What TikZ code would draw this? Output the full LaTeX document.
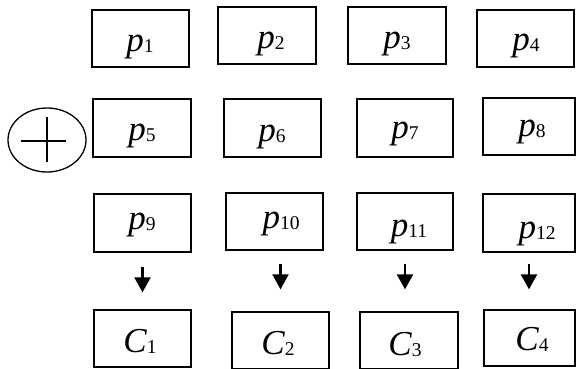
\documentclass[tikz,border=0pt]{standalone}
\usepackage{fontspec}
\setmainfont{Liberation Serif}
\usetikzlibrary{arrows.meta,shapes.geometric}
\newcommand\lab[2]{\textit{#1}\raisebox{-1.5pt}{\fontsize{19.5}{19.5}\selectfont #2}}
\tikzset{
  boxnode/.style={draw, line width=1.3pt, inner sep=0pt, rectangle},
  lblnode/.style={anchor=base, inner sep=0pt, font=\fontsize{35}{35}\selectfont},
  arr/.style={line width=2.2pt, -{Triangle[width=16pt,length=15pt]}},
}
\newcommand\bx[9]{%
  \pgfmathsetmacro\bw{#4-#2}\pgfmathsetmacro\bh{#5-#3}%
  \pgfmathsetmacro\bcx{(#2+#4)/2}\pgfmathsetmacro\bcy{(#3+#5)/2}%
  \node[boxnode, minimum width=\bw pt, minimum height=\bh pt] (#1) at (\bcx,\bcy) {};
  \node[lblnode] (#1t) at (#6,#7) {\lab{#8}{#9}};
}
\begin{document}
\begin{tikzpicture}[x=1pt,y=-1pt]
\useasboundingbox (0,0) rectangle (576,368);
\bx{p1}{92}{10}{189}{67}{140}{51}{p}{1}
\bx{p2}{218}{7}{316}{64}{271}{48}{p}{2}
\bx{p3}{348}{7}{446}{64}{397}{48}{p}{3}
\bx{p4}{477}{10}{574}{67}{526}{50}{p}{4}
\bx{p5}{93}{99}{191}{157}{142}{140}{p}{5}
\bx{p6}{224}{99}{321}{157}{272}{141}{p}{6}
\bx{p7}{357}{99}{453}{157}{405}{138}{p}{7}
\bx{p8}{483}{98}{575}{155}{532}{136}{p}{8}
\bx{p9}{94}{194}{191}{252}{142}{229}{p}{9}
\bx{p10}{226}{193}{323}{250}{281}{228}{p}{10}
\bx{p11}{357}{193}{453}{250}{409}{236}{p}{11}
\bx{p12}{483}{194}{575}{252}{537}{238}{p}{12}
\bx{c1}{94}{310}{191}{367}{140}{352}{C}{1}
\bx{c2}{232}{312}{329}{369}{278}{354}{C}{2}
\bx{c3}{360}{312}{458}{369}{405}{355}{C}{3}
\bx{c4}{484}{310}{575}{366}{532}{350}{C}{4}
\node[draw, ellipse, line width=1.3pt, minimum width=78pt, minimum height=64pt, inner sep=0pt] (circ) at (47,140) {};
\draw[line width=1.3pt] ([xshift=-26pt,yshift=-1pt]circ.center) -- ([xshift=19pt,yshift=-1pt]circ.center);
\draw[line width=1.3pt] ([yshift=23pt]circ.center) -- ([yshift=-22pt]circ.center);
\draw[arr] ([yshift=-14pt]p9.south) -- ([yshift=17pt]c1.north);
\draw[arr] ([yshift=-13pt]p10.south -| c2.north) -- ([yshift=22pt]c2.north);
\draw[arr] ([yshift=-13pt]p11.south) -- ([yshift=22pt]c3.north -| p11.south);
\draw[arr] ([yshift=-11pt]p12.south) -- ([yshift=20pt]c4.north -| p12.south);
\end{tikzpicture}
\end{document}
